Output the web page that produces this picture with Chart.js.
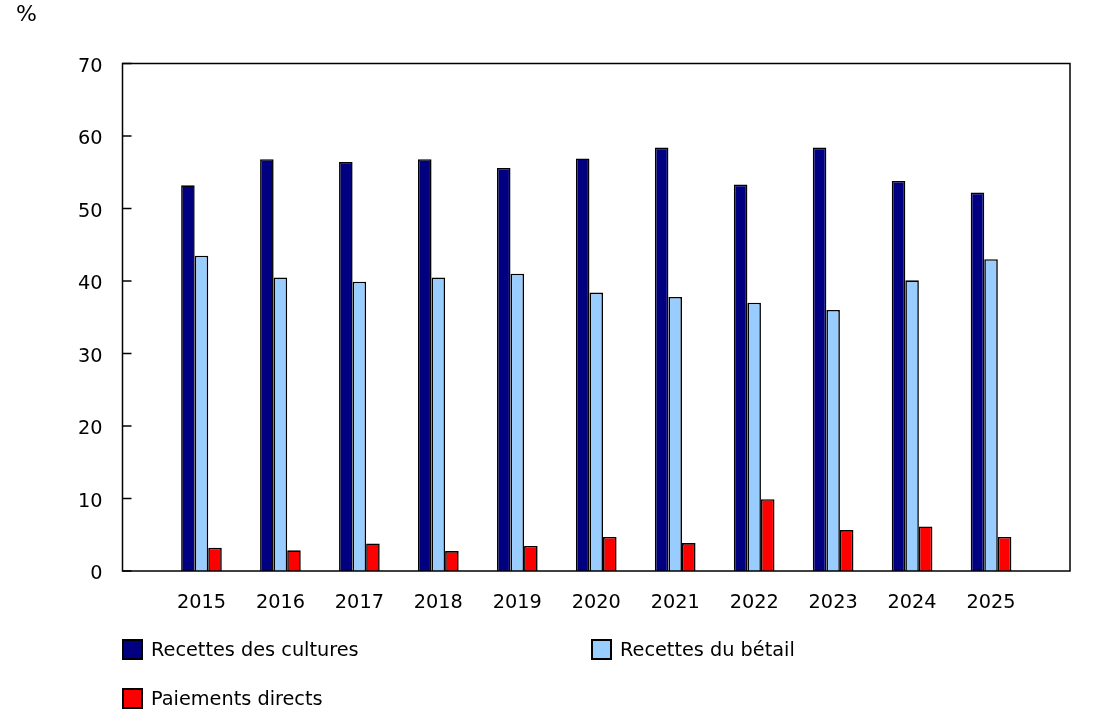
<!DOCTYPE html>
<html>
<head>
<meta charset="utf-8">
<script src="https://cdn.jsdelivr.net/npm/chart.js@4"></script>
<style>
  body { margin: 0; background: #fff; font-family: "DejaVu Sans", Verdana, sans-serif; color: #000; }
  #wrap { position: relative; width: 1098px; height: 722px; }
  #unit { position: absolute; left: 16px; top: 1px; font-size: 22px; }
  .legend-item { position: absolute; height: 21px; display: flex; align-items: center; font-size: 19.3px; line-height: 22px; white-space: nowrap; }
  .swatch { width: 17px; height: 17px; border: 2px solid #000; margin-right: 8px; }
</style>
</head>
<body>
<div id="wrap">
  <canvas id="cashChart" width="1098" height="722"></canvas>
  <div id="unit">%</div>
  <div id="legend"></div>
</div>
<script>
const YEARS = ['2015', '2016', '2017', '2018', '2019', '2020', '2021', '2022', '2023', '2024', '2025'];
const CROPS = [53.2, 56.8, 56.4, 56.8, 55.6, 56.9, 58.4, 53.3, 58.4, 53.8, 52.2];
const LIVESTOCK = [43.5, 40.5, 39.9, 40.5, 41.0, 38.4, 37.8, 37.0, 36.0, 40.1, 43.0];
const PAYMENTS = [3.2, 2.85, 3.8, 2.75, 3.45, 4.7, 3.85, 9.9, 5.65, 6.15, 4.7];
const SERIES_NAMES = ['Recettes des cultures', 'Recettes du bétail', 'Paiements directs'];
const COLORS = ['#000080', '#99ccff', '#ff0000'];

// empty slot on each side so the first and last year sit one step in from the frame
const pad = arr => [null, ...arr, null];
const labels = ['', ...YEARS, ''];

// frame round the plot and short ticks pointing inward on the y axis
const framePlugin = {
  id: 'frame',
  afterDatasetsDraw(chart) {
    const {ctx, chartArea: a, scales: {y}} = chart;
    ctx.save();
    ctx.strokeStyle = '#000';
    ctx.lineWidth = 1.5;
    ctx.strokeRect(a.left, a.top, a.right - a.left, a.bottom - a.top);
    y.ticks.forEach(t => {
      const py = y.getPixelForValue(t.value);
      ctx.beginPath();
      ctx.moveTo(a.left, py);
      ctx.lineTo(a.left + 9, py);
      ctx.stroke();
    });
    ctx.restore();
  }
};

const datasets = [CROPS, LIVESTOCK, PAYMENTS].map((values, i) => ({
  label: SERIES_NAMES[i],
  data: pad(values),
  backgroundColor: COLORS[i],
  borderColor: '#000',
  borderWidth: 1.6,
  borderSkipped: 'bottom',
  categoryPercentage: 0.515,
  barPercentage: 1.0
}));

const ctx = document.getElementById('cashChart');
const cashChart = new Chart(ctx, {
  type: 'bar',
  data: { labels: labels, datasets: datasets },
  options: {
    responsive: false,
    animation: false,
    devicePixelRatio: 1,
    layout: { padding: { left: 0, top: 63.5, right: 28, bottom: 101 } },
    plugins: { legend: { display: false }, tooltip: { enabled: false } },
    scales: {
      x: {
        offset: false,
        grid: { display: false, drawTicks: false },
        border: { display: false },
        ticks: { autoSkip: false, maxRotation: 0, padding: 20, color: '#000', font: { family: 'DejaVu Sans', size: 19.3 } },
        afterFit: s => { s.height = 50; }
      },
      y: {
        min: 0,
        max: 70,
        grid: { display: false, drawTicks: false },
        border: { display: false },
        ticks: { stepSize: 10, padding: 20, labelOffset: 3, color: '#000', font: { family: 'DejaVu Sans', size: 19.3 } },
        afterFit: s => { s.width = 122.5; }
      }
    }
  },
  plugins: [framePlugin]
});

// legend laid out like the original: two on the first row, one below
const LEGEND_POS = [[122, 639], [591, 639], [122, 688]];
const legendBox = document.getElementById('legend');
SERIES_NAMES.forEach((name, i) => {
  const item = document.createElement('div');
  item.className = 'legend-item';
  item.style.left = LEGEND_POS[i][0] + 'px';
  item.style.top = LEGEND_POS[i][1] + 'px';
  item.innerHTML = '<span class="swatch" style="background:' + COLORS[i] + '"></span><span>' + name + '</span>';
  legendBox.appendChild(item);
});
</script>
</body>
</html>
